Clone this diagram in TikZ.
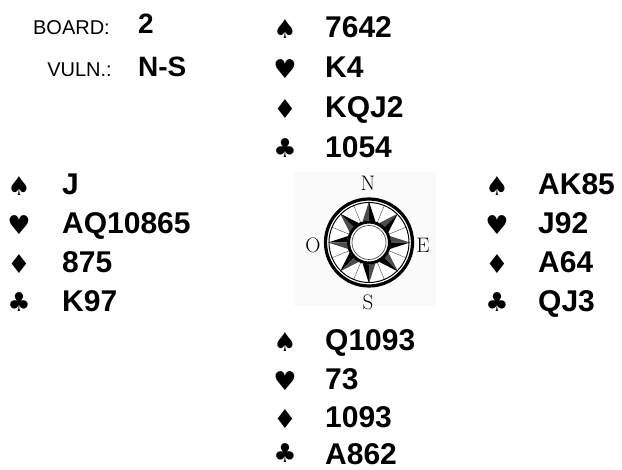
\documentclass[tikz,border=0pt]{standalone}
\usepackage{fontspec}
\newfontfamily\cardfont{Liberation Sans}
\newfontfamily\suitfont{DejaVu Sans}

\begin{document}
\begin{tikzpicture}[x=1pt,y=-1pt]

    \tikzset{
      CardStyle/.style = { anchor = base west, inner sep = 0pt,
                 font = \cardfont\bfseries\fontsize{30}{30}\selectfont },
      SuitStyle/.style = { anchor = base, inner sep = 0pt,
                 font = \suitfont\fontsize{26}{26}\selectfont },
      InfoStyle/.style = { anchor = base east, inner sep = 0pt,
                 font = \cardfont\fontsize{20}{20}\selectfont },
      PointStyle/.style = { inner sep = 0pt,
                 font = \fontsize{21}{21}\selectfont } }

      \useasboundingbox (0,0) rectangle (622,470);

      % board info
      \node[InfoStyle] (board) at (110,35) {BOARD:};
      \node[InfoStyle] (vuln) at (112,77) {VULN.:};
      \node[CardStyle, font = \cardfont\bfseries\fontsize{28}{28}\selectfont] (boardno) at (138,34) {2};
      \node[CardStyle, font = \cardfont\bfseries\fontsize{28}{28}\selectfont] (vulnval) at (138,77) {N-S};

      % north
      \node[SuitStyle] (ns) at (285,39) {♠};
      \node[SuitStyle] (nh) at (285,79) {♥};
      \node[SuitStyle] (nd) at (285,119) {♦};
      \node[SuitStyle] (nc) at (285,158) {♣};
      \node[CardStyle] (n1) at (325,38) {7642};
      \node[CardStyle] (n2) at (325,78) {K4};
      \node[CardStyle] (n3) at (325,118) {KQJ2};
      \node[CardStyle] (n4) at (325,158) {1054};

      % west
      \node[SuitStyle] (ws) at (19,196) {♠};
      \node[SuitStyle] (wh) at (19,235) {♥};
      \node[SuitStyle] (wd) at (19,274) {♦};
      \node[SuitStyle] (wc) at (19,312) {♣};
      \node[CardStyle] (w1) at (62,195) {J};
      \node[CardStyle] (w2) at (62,234) {AQ10865};
      \node[CardStyle] (w3) at (62,273) {875};
      \node[CardStyle] (w4) at (62,312) {K97};

      % east
      \node[SuitStyle] (es) at (497,196) {♠};
      \node[SuitStyle] (eh) at (497,235) {♥};
      \node[SuitStyle] (ed) at (497,274) {♦};
      \node[SuitStyle] (ec) at (497,312) {♣};
      \node[CardStyle] (e1) at (538,195) {AK85};
      \node[CardStyle] (e2) at (538,234) {J92};
      \node[CardStyle] (e3) at (538,273) {A64};
      \node[CardStyle] (e4) at (538,312) {QJ3};

      % south
      \node[SuitStyle] (ss) at (285,352) {♠};
      \node[SuitStyle] (sh) at (285,391) {♥};
      \node[SuitStyle] (sd) at (285,429) {♦};
      \node[SuitStyle] (sc) at (285,463) {♣};
      \node[CardStyle] (s1) at (325,351) {Q1093};
      \node[CardStyle] (s2) at (325,390) {73};
      \node[CardStyle] (s3) at (325,428) {1093};
      \node[CardStyle] (s4) at (325,465) {A862};

      % compass
      \fill[black!2] (294,172) rectangle (436,306);
      \coordinate (c) at (369,242.5);
      \fill[white] (c) circle (45);
      \foreach \a in {0,45,...,315} {
        \fill[black] ([shift={(\a+17:22)}]c) -- ([shift={(\a:41)}]c) -- ([shift={(\a:22)}]c) -- cycle;
        \fill[black!70] ([shift={(\a-17:22)}]c) -- ([shift={(\a:41)}]c) -- ([shift={(\a:22)}]c) -- cycle;
        \draw[line width=0.5pt, black!60] ([shift={(\a+22.5:22)}]c) -- ([shift={(\a+22.5:40)}]c);
      }
      \draw[line width=3.2pt] (c) circle (43.5);
      \draw[line width=1pt] (c) circle (40);
      \draw[line width=3pt, fill=white] (c) circle (20.5);
      \draw[line width=0.7pt, black!70] (c) circle (17);
      \node[PointStyle] (pn) at (368,183) {N};
      \node[PointStyle] (po) at (313,245) {O};
      \node[PointStyle] (pe) at (423,245) {E};
      \node[PointStyle] (ps) at (368,302) {S};

\end{tikzpicture}
\end{document}
